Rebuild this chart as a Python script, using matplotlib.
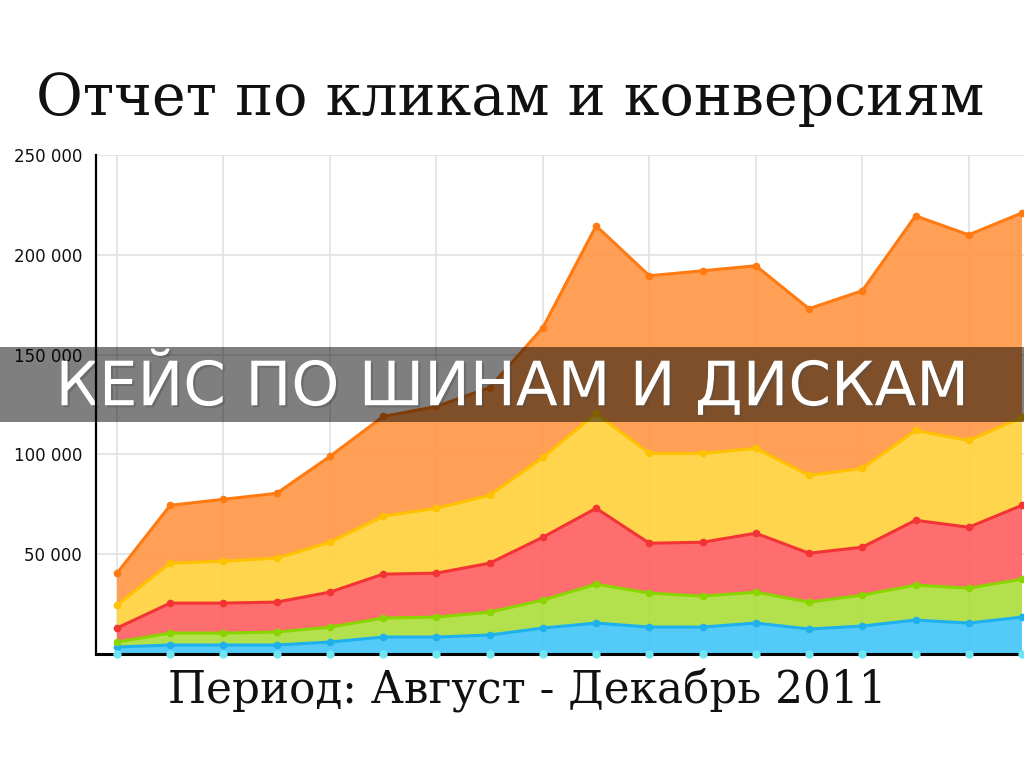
import matplotlib
matplotlib.use("Agg")
import matplotlib.pyplot as plt
import matplotlib.patheffects as pe
from matplotlib.patches import Rectangle
from matplotlib.ticker import FuncFormatter
import numpy as np

# данные (по неделям, слои снизу вверх)
blue = [3500, 4500, 4500, 4500, 6000, 8500, 8500, 9500, 13000, 15500,
        13500, 13500, 15500, 12500, 14000, 17000, 15500, 18500]
green = [2500, 6000, 6000, 6500, 7500, 9500, 10000, 11500, 14000, 19500,
         17000, 15500, 15500, 13500, 15500, 17500, 17500, 19000]
red = [7000, 15000, 15000, 15000, 17500, 22000, 22000, 24500, 31500, 38000,
       25000, 27000, 29500, 24500, 24000, 32500, 30500, 37000]
yellow = [11500, 20000, 21000, 22000, 25000, 29000, 32500, 34000, 40000, 47500,
          45000, 44500, 42500, 39000, 39500, 45000, 43500, 44000]
orange = [16000, 29000, 31000, 32500, 43000, 50000, 51000, 54000, 65000, 94000,
          89000, 91500, 91500, 83500, 89000, 107500, 103000, 102500]
conversions = [0] * 18

title = "Отчет по кликам и конверсиям"
banner = "КЕЙС ПО ШИНАМ И ДИСКАМ"
period = "Период: Август - Декабрь 2011"
y_ticks = [50000, 100000, 150000, 200000, 250000]

fills = ["#44c6f8", "#acdf3e", "#fe6262", "#ffd23e", "#ff9848"]
lines = ["#1fb0ee", "#8ad400", "#f23434", "#ffc200", "#ff7a10"]

fig = plt.figure(figsize=(10.24, 7.68), dpi=100)
# ось как на скриншоте: график обрезан справа
ax = fig.add_axes([96 / 1024, 1 - 654 / 768, 1 - 96 / 1024, 499 / 768])
ax.set_axisbelow(True)

x = np.arange(len(blue))
layers = [blue, green, red, yellow, orange]
ax.stackplot(x, *layers, colors=fills, alpha=0.92, zorder=1)

cum = np.zeros(len(x))
for vals, c in zip(layers, lines):
    cum = cum + np.array(vals)
    ax.plot(x, cum, color=c, lw=2.2, marker="o", ms=4.5, zorder=1.2)
ax.plot(x, conversions, color="#6ee6f2", lw=0, marker="o", ms=5,
        zorder=2.6, clip_on=False)

step = 53.3
ax.set_xlim(-21 / step, 17 + 2 / step)
ax.set_ylim(0, 250000)
ax.set_yticks(y_ticks)
ax.yaxis.set_major_formatter(FuncFormatter(lambda v, p: f"{int(v):,}".replace(",", " ")))
ax.set_xticks(x[::2])
ax.set_xticklabels([])
ax.tick_params(length=0, labelsize=12, pad=10, labelcolor="#111111")
ax.grid(True, color="#e2e2e2", lw=1.2)

for s in ["top", "right"]:
    ax.spines[s].set_visible(False)
ax.spines["left"].set_linewidth(1.6)
ax.spines["bottom"].set_linewidth(2.2)

# полупрозрачная плашка с заголовком кейса
band = Rectangle((0, 1 - 422 / 768), 1, 75 / 768, transform=fig.transFigure,
                 facecolor="black", alpha=0.5, edgecolor="none",
                 clip_on=False, zorder=1.4)
ax.add_artist(band)
ax.text(0.5, 1 - 385 / 768, banner, transform=fig.transFigure, ha="center",
        va="center", color="white", fontsize=44, family="DejaVu Sans",
        zorder=1.45, clip_on=False,
        path_effects=[pe.withSimplePatchShadow(offset=(1.5, -1.5), alpha=0.4)])

fig.text(510 / 1024, 1 - 115 / 768, title, ha="center", va="baseline",
         fontsize=41, family="DejaVu Serif", color="#111111")
fig.text(527 / 1024, 1 - 703 / 768, period, ha="center", va="baseline",
         fontsize=31.5, family="DejaVu Serif", color="#111111")

fig.savefig("out.png", dpi=100)
